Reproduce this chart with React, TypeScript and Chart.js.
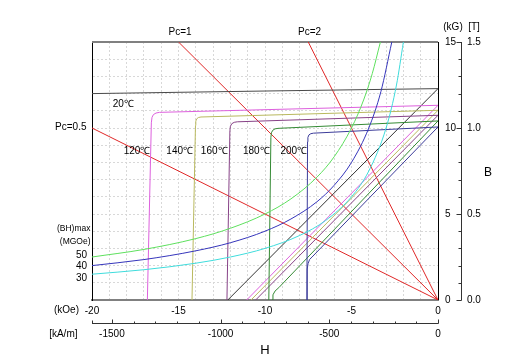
import React, { useEffect, useRef } from 'react';
import { Chart, registerables } from 'chart.js';

Chart.register(...registerables);

type P = [number, number];

// ---- data: [H (kOe), B (kG)] ----
const temperatureLabels = ['20℃', '120℃', '140℃', '160℃', '180℃', '200℃'];

// intrinsic curves
const j20: P[] = [[-20, 12.0], [-10, 12.15], [0, 12.29]];
const j120: P[] = [[-16.8, 0], [-16.57, 10.3], [-16.53, 10.62], [-16.45, 10.78], [-16.3, 10.87], [-16.1, 10.91], [0, 11.32]];
const j140: P[] = [[-14.22, 0], [-14.02, 10.15], [-14.0, 10.4], [-13.95, 10.53], [-13.85, 10.61], [-13.7, 10.64], [0, 11.03]];
const j160: P[] = [[-12.2, 0], [-12.03, 9.85], [-12.0, 10.1], [-11.92, 10.25], [-11.78, 10.33], [-11.6, 10.36], [0, 10.74]];
const j180: P[] = [[-9.78, 0], [-9.66, 9.45], [-9.63, 9.72], [-9.55, 9.87], [-9.42, 9.95], [-9.25, 9.98], [0, 10.41]];
const j200: P[] = [[-7.58, 0], [-7.54, 9.2], [-7.52, 9.45], [-7.46, 9.6], [-7.35, 9.67], [-7.2, 9.7], [0, 10.06]];

// normal curves
const b20: P[] = [[-12.15, 0], [0, 12.29]];
const b120: P[] = [[-11.06, 0], [0, 11.32]];
const b140: P[] = [[-10.81, 0], [0, 11.03]];
const b160: P[] = [[-10.54, 0], [0, 10.74]];
const b180: P[] = [[-9.59, 0], [-9.54, 0.3], [-9.42, 0.52], [-9.2, 0.72], [0, 10.41]];
const b200: P[] = [[-7.57, 0], [-7.56, 1.8], [-7.51, 2.12], [-7.42, 2.36], [-7.28, 2.5], [0, 10.06]];

// (BH)max curves
const bhLabels = ['50', '40', '30'];
const bh50: P[] = [[-20, 2.5], [-17, 2.94], [-14, 3.57], [-12, 4.17], [-10, 5.0], [-8.5, 5.88], [-7, 7.14], [-6, 8.33], [-5, 10.0], [-4.3, 11.63], [-3.8, 13.16], [-3.33, 15]];
const bh40: P[] = [[-20, 2.0], [-17, 2.35], [-14, 2.86], [-12, 3.33], [-10, 4.0], [-8.5, 4.71], [-7, 5.71], [-6, 6.67], [-5, 8.0], [-4, 10.0], [-3.3, 12.12], [-2.67, 15]];
const bh30: P[] = [[-20, 1.5], [-17, 1.76], [-14, 2.14], [-12, 2.5], [-10, 3.0], [-8, 3.75], [-6.5, 4.62], [-5, 6.0], [-4, 7.5], [-3, 10.0], [-2.4, 12.5], [-2, 15]];

// permeance coefficient lines
const pcLabels = ['Pc=0.5', 'Pc=1', 'Pc=2'];
const pc05: P[] = [[-20, 10], [0, 0]];
const pc1: P[] = [[-15, 15], [0, 0]];
const pc2: P[] = [[-7.5, 15], [0, 0]];

// axis ticks
const kGTicks = [0, 5, 10, 15];
const teslaTicks = ['0.0', '0.5', '1.0', '1.5'];
const kAmTicks = [-1500, -1000, -500, 0];
const KAM_PER_KOE = 79.5775;

const FONT = '"Liberation Sans", Arial, Helvetica, sans-serif';

const toXY = (p: P[]) => p.map(([x, y]) => ({ x, y }));

export default function App() {
  const ref = useRef<HTMLCanvasElement>(null);

  useEffect(() => {
    const canvas = ref.current!;

    const line = (ctx: CanvasRenderingContext2D, x1: number, y1: number, x2: number, y2: number) => {
      ctx.beginPath();
      ctx.moveTo(x1, y1);
      ctx.lineTo(x2, y2);
      ctx.stroke();
    };
    const text = (ctx: CanvasRenderingContext2D, s: string, x: number, y: number, align: CanvasTextAlign, size = 10) => {
      ctx.font = `${size}px ${FONT}`;
      ctx.textAlign = align;
      ctx.textBaseline = 'middle';
      ctx.fillText(s, x, y);
    };

    const overlay = {
      id: 'overlay',
      beforeDatasetsDraw(chart: any) {
        const { ctx, chartArea: a } = chart;
        ctx.save();
        ctx.strokeStyle = '#808080';
        ctx.lineWidth = 2;
        line(ctx, a.left, a.top, a.right, a.top);
        ctx.strokeStyle = '#000';
        ctx.lineWidth = 1;
        line(ctx, a.right + 0.5, a.top, a.right + 0.5, a.bottom);
        ctx.restore();
      },
      afterDraw(chart: any) {
        const { ctx, chartArea: a, scales } = chart;
        const xs = scales.x;
        const ys = scales.y;
        ctx.save();
        ctx.fillStyle = '#000';

        // right B axis
        const ax = Math.round(a.right + 23) + 0.5;
        ctx.strokeStyle = '#333';
        ctx.lineWidth = 1;
        line(ctx, ax, ys.getPixelForValue(0) + 0.5, ax, ys.getPixelForValue(15));
        for (let v = 0; v <= 15; v++) {
          const py = Math.round(ys.getPixelForValue(v)) + 0.5;
          const len = v % 5 === 0 ? 5 : 3;
          line(ctx, ax - len, py, ax, py);
        }
        kGTicks.forEach((v, i) => {
          const py = ys.getPixelForValue(v);
          text(ctx, String(v), ax - 16.5, py, 'left');
          text(ctx, teslaTicks[i], ax + 5.5, py, 'left');
        });
        text(ctx, '(kG)', 453, 27, 'center');
        text(ctx, '[T]', 474, 27, 'center');
        text(ctx, 'B', 488, 172.5, 'center', 12);

        // lower H axis in kA/m
        const hy = 323.5;
        line(ctx, xs.getPixelForValue(-20), hy, xs.getPixelForValue(0) + 0.5, hy);
        line(ctx, Math.round(xs.getPixelForValue(-20)) + 0.5, hy - 3, Math.round(xs.getPixelForValue(-20)) + 0.5, hy);
        for (let k = -1500; k <= 0; k += 100) {
          const px = Math.round(xs.getPixelForValue(k / KAM_PER_KOE)) + 0.5;
          const len = k % 500 === 0 ? 4 : 2;
          line(ctx, px, hy - len, px, hy);
        }
        kAmTicks.forEach((k) => {
          text(ctx, String(k), xs.getPixelForValue(k / KAM_PER_KOE), 334.5, 'center');
        });
        text(ctx, '(kOe)', 79, 310, 'right');
        text(ctx, '[kA/m]', 77.5, 334.5, 'right');
        text(ctx, 'H', 265, 350.5, 'center', 13);

        // Pc labels
        text(ctx, pcLabels[0], 86.5, 127.5, 'right');
        text(ctx, pcLabels[1], 180, 32.5, 'center');
        text(ctx, pcLabels[2], 309.5, 32.5, 'center');

        // temperature labels
        const tPos: P[] = [[123.3, 104.3], [137, 151], [179.7, 151], [214.2, 151], [256.3, 151], [293.8, 151]];
        temperatureLabels.forEach((t, i) => text(ctx, t, tPos[i][0], tPos[i][1], 'center'));

        // (BH)max labels
        text(ctx, '(BH)max', 90.5, 228.3, 'right', 8.5);
        text(ctx, '(MGOe)', 90.5, 241.7, 'right', 8.5);
        const bhY = [255, 266.7, 278.3];
        bhLabels.forEach((l, i) => text(ctx, l, 87, bhY[i], 'right'));

        ctx.restore();
      },
    };

    const ds = (data: P[], color: string, curved = false) => ({
      data: toXY(data),
      borderColor: color,
      backgroundColor: color,
      borderWidth: 1,
      pointRadius: 0,
      showLine: true,
      fill: false,
      tension: 0,
      cubicInterpolationMode: curved ? 'monotone' : 'default',
    });

    const c20 = '#4a4a4a';
    const c120 = '#dd60dd';
    const c140 = '#b9b95e';
    const c160 = '#874287';
    const c180 = '#348a34';
    const c200 = '#3c3c9a';

    const chart = new Chart(canvas, {
      type: 'scatter',
      data: {
        datasets: [
          ds(bh50, '#5ee05e', true),
          ds(bh40, '#3535bb', true),
          ds(bh30, '#3fdcdc', true),
          ds(j20, c20),
          ds(j120, c120),
          ds(j140, c140),
          ds(j160, c160),
          ds(j180, c180),
          ds(j200, c200),
          ds(b20, '#333333'),
          ds(b120, c120),
          ds(b140, c140),
          ds(b160, c160),
          ds(b180, c180),
          ds(b200, c200),
          ds(pc05, '#e02828'),
          ds(pc1, '#e02828'),
          ds(pc2, '#e02828'),
        ] as any,
      },
      options: {
        responsive: false,
        animation: false,
        devicePixelRatio: 1,
        layout: { padding: { left: 92, right: 71, top: 42, bottom: 40 } },
        plugins: { legend: { display: false }, tooltip: { enabled: false } },
        scales: {
          x: {
            type: 'linear',
            position: 'bottom',
            min: -20,
            max: 0,
            ticks: {
              stepSize: 1,
              autoSkip: false,
              maxRotation: 0,
              minRotation: 0,
              padding: 5,
              color: '#000',
              font: { family: FONT, size: 10 },
              callback: (v: any) => (Number(v) % 5 === 0 ? String(v) : ''),
            },
            grid: { color: '#d8d8d8', drawTicks: false, lineWidth: 1 },
            border: { color: '#808080', width: 2, dash: [2, 2] },
            afterFit: (s: any) => {
              s.height = 20;
            },
          },
          y: {
            type: 'linear',
            position: 'left',
            min: 0,
            max: 15,
            ticks: { display: false, stepSize: 1 },
            grid: { color: '#d8d8d8', drawTicks: false, lineWidth: 1 },
            border: { color: '#000', width: 1, dash: [2, 2] },
            afterFit: (s: any) => {
              s.width = 0;
            },
          },
        },
      } as any,
      plugins: [overlay],
    });

    return () => chart.destroy();
  }, []);

  return (
    <div style={{ position: 'fixed', left: 0, top: 0, width: 509, height: 360, background: '#fff' }}>
      <canvas ref={ref} width={509} height={360} style={{ display: 'block', width: 509, height: 360 }} />
    </div>
  );
}
